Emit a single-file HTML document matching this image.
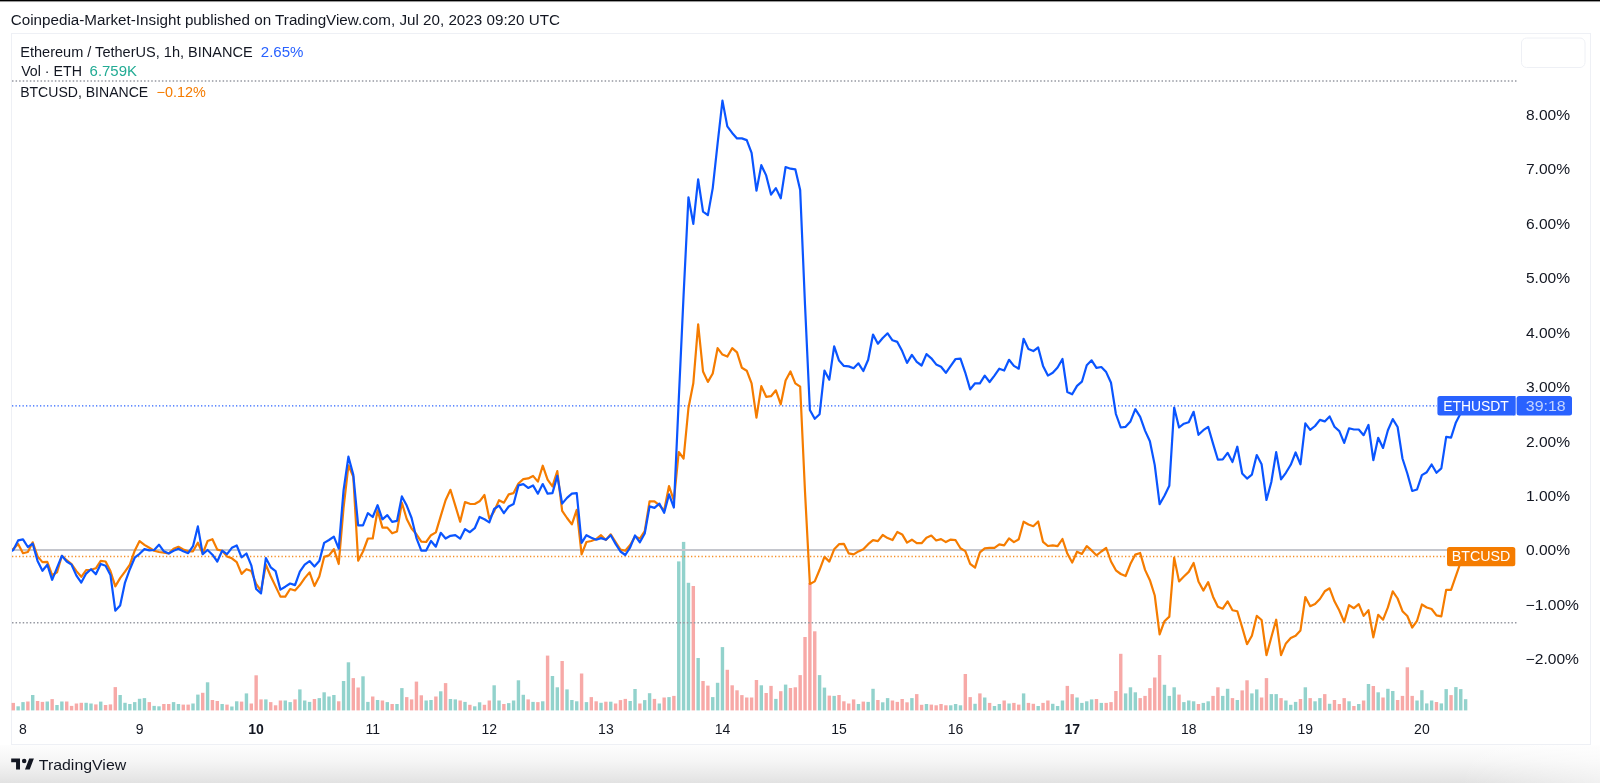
<!DOCTYPE html>
<html><head><meta charset="utf-8"><title>ETHUSDT vs BTCUSD</title>
<style>
html,body{margin:0;padding:0;width:1600px;height:783px;overflow:hidden;background:#fff;}
body{position:relative;font-family:"Liberation Sans", Arial, sans-serif;color:#131722;}
#topbar{position:absolute;left:0;top:0;width:1600px;height:3px;background:linear-gradient(#000 0,#000 1px,#999 1px,#999 2px,#fafafa 2px,#fafafa 3px);}
#foot{position:absolute;left:0;top:745px;width:1600px;height:38px;background:linear-gradient(#fdfdfd 0%,#f6f6f6 40%,#e9e9e9 80%,#e2e2e2 100%);}
#footr{position:absolute;right:0;top:745px;width:140px;height:38px;background:linear-gradient(90deg,rgba(255,255,255,0),rgba(255,255,255,0.5));}
#box{position:absolute;left:11px;top:33px;width:1578px;height:710px;border:1px solid #eef0f5;background:#fff;}
svg{position:absolute;left:0;top:0;will-change:transform;}
</style></head><body>
<div id="topbar"></div>
<div id="foot"></div>
<div id="footr"></div>
<div id="box"></div>
<svg width="1600" height="783" viewBox="0 0 1600 783" font-family='"Liberation Sans", Arial, sans-serif' font-size="14">
<defs><clipPath id="pane"><rect x="12" y="34" width="1505" height="676.4"/></clipPath></defs>
<rect x="1521.5" y="38" width="63.5" height="29.5" rx="5" fill="none" stroke="#eef0f5" stroke-width="1"/>
<g fill="rgba(38,166,154,0.5)"><rect x="16.44" y="706.30" width="3.4" height="4.10"/><rect x="21.30" y="702.10" width="3.4" height="8.30"/><rect x="31.01" y="695.00" width="3.4" height="15.40"/><rect x="45.59" y="701.50" width="3.4" height="8.90"/><rect x="55.30" y="705.00" width="3.4" height="5.40"/><rect x="60.16" y="701.50" width="3.4" height="8.90"/><rect x="84.44" y="702.80" width="3.4" height="7.60"/><rect x="89.30" y="703.50" width="3.4" height="6.90"/><rect x="99.02" y="701.60" width="3.4" height="8.80"/><rect x="118.45" y="695.00" width="3.4" height="15.40"/><rect x="123.30" y="702.80" width="3.4" height="7.60"/><rect x="128.16" y="704.00" width="3.4" height="6.40"/><rect x="133.02" y="702.10" width="3.4" height="8.30"/><rect x="137.87" y="698.80" width="3.4" height="11.60"/><rect x="142.73" y="698.10" width="3.4" height="12.30"/><rect x="152.45" y="705.90" width="3.4" height="4.50"/><rect x="157.30" y="706.30" width="3.4" height="4.10"/><rect x="171.88" y="702.10" width="3.4" height="8.30"/><rect x="176.73" y="704.00" width="3.4" height="6.40"/><rect x="191.31" y="703.50" width="3.4" height="6.90"/><rect x="196.16" y="694.60" width="3.4" height="15.80"/><rect x="205.88" y="682.30" width="3.4" height="28.10"/><rect x="220.45" y="704.00" width="3.4" height="6.40"/><rect x="230.16" y="706.50" width="3.4" height="3.90"/><rect x="235.02" y="701.30" width="3.4" height="9.10"/><rect x="244.74" y="693.40" width="3.4" height="17.00"/><rect x="264.16" y="699.40" width="3.4" height="11.00"/><rect x="283.59" y="700.50" width="3.4" height="9.90"/><rect x="288.45" y="702.10" width="3.4" height="8.30"/><rect x="298.17" y="689.40" width="3.4" height="21.00"/><rect x="303.02" y="700.50" width="3.4" height="9.90"/><rect x="307.88" y="701.90" width="3.4" height="8.50"/><rect x="317.59" y="698.10" width="3.4" height="12.30"/><rect x="322.45" y="692.30" width="3.4" height="18.10"/><rect x="327.31" y="696.50" width="3.4" height="13.90"/><rect x="332.17" y="695.00" width="3.4" height="15.40"/><rect x="341.88" y="681.00" width="3.4" height="29.40"/><rect x="346.74" y="662.30" width="3.4" height="48.10"/><rect x="361.31" y="676.30" width="3.4" height="34.10"/><rect x="366.17" y="701.90" width="3.4" height="8.50"/><rect x="375.88" y="700.00" width="3.4" height="10.40"/><rect x="385.60" y="702.10" width="3.4" height="8.30"/><rect x="395.31" y="704.00" width="3.4" height="6.40"/><rect x="400.17" y="688.10" width="3.4" height="22.30"/><rect x="424.46" y="700.50" width="3.4" height="9.90"/><rect x="429.31" y="700.00" width="3.4" height="10.40"/><rect x="439.03" y="691.30" width="3.4" height="19.10"/><rect x="448.74" y="699.00" width="3.4" height="11.40"/><rect x="453.60" y="699.40" width="3.4" height="11.00"/><rect x="463.31" y="701.90" width="3.4" height="8.50"/><rect x="473.03" y="706.30" width="3.4" height="4.10"/><rect x="477.89" y="702.30" width="3.4" height="8.10"/><rect x="492.46" y="685.30" width="3.4" height="25.10"/><rect x="497.32" y="700.50" width="3.4" height="9.90"/><rect x="507.03" y="703.10" width="3.4" height="7.30"/><rect x="511.89" y="700.50" width="3.4" height="9.90"/><rect x="516.74" y="680.30" width="3.4" height="30.10"/><rect x="521.60" y="694.80" width="3.4" height="15.60"/><rect x="531.32" y="701.90" width="3.4" height="8.50"/><rect x="541.03" y="701.30" width="3.4" height="9.10"/><rect x="550.75" y="676.00" width="3.4" height="34.40"/><rect x="555.60" y="687.30" width="3.4" height="23.10"/><rect x="565.32" y="689.40" width="3.4" height="21.00"/><rect x="570.17" y="700.00" width="3.4" height="10.40"/><rect x="575.03" y="701.30" width="3.4" height="9.10"/><rect x="584.75" y="702.10" width="3.4" height="8.30"/><rect x="599.32" y="702.80" width="3.4" height="7.60"/><rect x="609.03" y="701.70" width="3.4" height="8.70"/><rect x="628.46" y="701.00" width="3.4" height="9.40"/><rect x="633.32" y="689.00" width="3.4" height="21.40"/><rect x="643.03" y="700.10" width="3.4" height="10.30"/><rect x="647.89" y="693.20" width="3.4" height="17.20"/><rect x="657.61" y="703.50" width="3.4" height="6.90"/><rect x="667.32" y="697.10" width="3.4" height="13.30"/><rect x="677.04" y="561.40" width="3.4" height="149.00"/><rect x="681.89" y="541.90" width="3.4" height="168.50"/><rect x="686.75" y="582.80" width="3.4" height="127.60"/><rect x="696.46" y="658.00" width="3.4" height="52.40"/><rect x="711.04" y="697.10" width="3.4" height="13.30"/><rect x="715.89" y="682.80" width="3.4" height="27.60"/><rect x="720.75" y="647.10" width="3.4" height="63.30"/><rect x="759.61" y="685.30" width="3.4" height="25.10"/><rect x="774.18" y="698.90" width="3.4" height="11.50"/><rect x="783.90" y="684.60" width="3.4" height="25.80"/><rect x="817.90" y="675.10" width="3.4" height="35.30"/><rect x="822.75" y="687.60" width="3.4" height="22.80"/><rect x="832.47" y="695.90" width="3.4" height="14.50"/><rect x="856.76" y="704.00" width="3.4" height="6.40"/><rect x="866.47" y="701.90" width="3.4" height="8.50"/><rect x="871.33" y="688.80" width="3.4" height="21.60"/><rect x="881.04" y="702.30" width="3.4" height="8.10"/><rect x="885.90" y="698.10" width="3.4" height="12.30"/><rect x="910.19" y="698.10" width="3.4" height="12.30"/><rect x="924.76" y="704.00" width="3.4" height="6.40"/><rect x="949.04" y="705.30" width="3.4" height="5.10"/><rect x="953.90" y="704.00" width="3.4" height="6.40"/><rect x="958.76" y="705.30" width="3.4" height="5.10"/><rect x="973.33" y="703.80" width="3.4" height="6.60"/><rect x="983.04" y="697.50" width="3.4" height="12.90"/><rect x="992.76" y="706.00" width="3.4" height="4.40"/><rect x="997.62" y="704.00" width="3.4" height="6.40"/><rect x="1007.33" y="703.50" width="3.4" height="6.90"/><rect x="1021.90" y="693.40" width="3.4" height="17.00"/><rect x="1036.48" y="706.00" width="3.4" height="4.40"/><rect x="1051.05" y="703.80" width="3.4" height="6.60"/><rect x="1055.90" y="706.00" width="3.4" height="4.40"/><rect x="1060.76" y="700.50" width="3.4" height="9.90"/><rect x="1075.33" y="697.50" width="3.4" height="12.90"/><rect x="1080.19" y="702.90" width="3.4" height="7.50"/><rect x="1085.05" y="701.30" width="3.4" height="9.10"/><rect x="1089.91" y="699.40" width="3.4" height="11.00"/><rect x="1099.62" y="702.90" width="3.4" height="7.50"/><rect x="1123.91" y="693.40" width="3.4" height="17.00"/><rect x="1128.76" y="687.30" width="3.4" height="23.10"/><rect x="1133.62" y="692.30" width="3.4" height="18.10"/><rect x="1162.77" y="684.80" width="3.4" height="25.60"/><rect x="1167.62" y="695.90" width="3.4" height="14.50"/><rect x="1172.48" y="687.30" width="3.4" height="23.10"/><rect x="1182.19" y="702.10" width="3.4" height="8.30"/><rect x="1187.05" y="700.50" width="3.4" height="9.90"/><rect x="1191.91" y="701.30" width="3.4" height="9.10"/><rect x="1201.62" y="702.90" width="3.4" height="7.50"/><rect x="1206.48" y="701.30" width="3.4" height="9.10"/><rect x="1221.05" y="695.90" width="3.4" height="14.50"/><rect x="1225.91" y="688.80" width="3.4" height="21.60"/><rect x="1235.62" y="700.00" width="3.4" height="10.40"/><rect x="1250.20" y="693.40" width="3.4" height="17.00"/><rect x="1255.05" y="689.40" width="3.4" height="21.00"/><rect x="1269.63" y="694.10" width="3.4" height="16.30"/><rect x="1274.48" y="694.10" width="3.4" height="16.30"/><rect x="1284.20" y="700.50" width="3.4" height="9.90"/><rect x="1289.05" y="704.80" width="3.4" height="5.60"/><rect x="1293.91" y="701.90" width="3.4" height="8.50"/><rect x="1303.63" y="687.30" width="3.4" height="23.10"/><rect x="1313.34" y="701.30" width="3.4" height="9.10"/><rect x="1318.20" y="698.10" width="3.4" height="12.30"/><rect x="1327.91" y="703.80" width="3.4" height="6.60"/><rect x="1347.34" y="701.30" width="3.4" height="9.10"/><rect x="1357.06" y="704.00" width="3.4" height="6.40"/><rect x="1366.77" y="684.00" width="3.4" height="26.40"/><rect x="1376.49" y="692.30" width="3.4" height="18.10"/><rect x="1386.20" y="688.80" width="3.4" height="21.60"/><rect x="1391.06" y="691.00" width="3.4" height="19.40"/><rect x="1415.34" y="700.50" width="3.4" height="9.90"/><rect x="1420.20" y="690.20" width="3.4" height="20.20"/><rect x="1425.06" y="703.40" width="3.4" height="7.00"/><rect x="1429.92" y="700.50" width="3.4" height="9.90"/><rect x="1439.63" y="703.40" width="3.4" height="7.00"/><rect x="1444.49" y="689.10" width="3.4" height="21.30"/><rect x="1454.20" y="687.10" width="3.4" height="23.30"/><rect x="1459.06" y="689.10" width="3.4" height="21.30"/><rect x="1463.92" y="699.20" width="3.4" height="11.20"/></g>
<g fill="rgba(239,83,80,0.5)"><rect x="11.59" y="702.90" width="3.4" height="7.50"/><rect x="26.16" y="701.50" width="3.4" height="8.90"/><rect x="35.87" y="701.00" width="3.4" height="9.40"/><rect x="40.73" y="701.90" width="3.4" height="8.50"/><rect x="50.44" y="699.10" width="3.4" height="11.30"/><rect x="65.02" y="701.50" width="3.4" height="8.90"/><rect x="69.87" y="705.90" width="3.4" height="4.50"/><rect x="74.73" y="703.50" width="3.4" height="6.90"/><rect x="79.59" y="702.80" width="3.4" height="7.60"/><rect x="94.16" y="704.40" width="3.4" height="6.00"/><rect x="103.87" y="705.00" width="3.4" height="5.40"/><rect x="108.73" y="704.40" width="3.4" height="6.00"/><rect x="113.59" y="687.10" width="3.4" height="23.30"/><rect x="147.59" y="702.10" width="3.4" height="8.30"/><rect x="162.16" y="704.00" width="3.4" height="6.40"/><rect x="167.02" y="704.00" width="3.4" height="6.40"/><rect x="181.59" y="704.60" width="3.4" height="5.80"/><rect x="186.45" y="704.60" width="3.4" height="5.80"/><rect x="201.02" y="692.80" width="3.4" height="17.60"/><rect x="210.73" y="700.00" width="3.4" height="10.40"/><rect x="215.59" y="701.00" width="3.4" height="9.40"/><rect x="225.31" y="704.60" width="3.4" height="5.80"/><rect x="239.88" y="701.60" width="3.4" height="8.80"/><rect x="249.59" y="703.50" width="3.4" height="6.90"/><rect x="254.45" y="675.30" width="3.4" height="35.10"/><rect x="259.31" y="699.40" width="3.4" height="11.00"/><rect x="269.02" y="702.10" width="3.4" height="8.30"/><rect x="273.88" y="705.30" width="3.4" height="5.10"/><rect x="278.74" y="700.50" width="3.4" height="9.90"/><rect x="293.31" y="699.40" width="3.4" height="11.00"/><rect x="312.74" y="699.00" width="3.4" height="11.40"/><rect x="337.02" y="701.30" width="3.4" height="9.10"/><rect x="351.60" y="678.10" width="3.4" height="32.30"/><rect x="356.45" y="687.50" width="3.4" height="22.90"/><rect x="371.03" y="696.50" width="3.4" height="13.90"/><rect x="380.74" y="700.50" width="3.4" height="9.90"/><rect x="390.45" y="704.00" width="3.4" height="6.40"/><rect x="405.03" y="697.10" width="3.4" height="13.30"/><rect x="409.88" y="699.40" width="3.4" height="11.00"/><rect x="414.74" y="681.60" width="3.4" height="28.80"/><rect x="419.60" y="695.30" width="3.4" height="15.10"/><rect x="434.17" y="696.50" width="3.4" height="13.90"/><rect x="443.88" y="683.10" width="3.4" height="27.30"/><rect x="458.46" y="700.50" width="3.4" height="9.90"/><rect x="468.17" y="704.80" width="3.4" height="5.60"/><rect x="482.74" y="704.80" width="3.4" height="5.60"/><rect x="487.60" y="700.50" width="3.4" height="9.90"/><rect x="502.17" y="704.00" width="3.4" height="6.40"/><rect x="526.46" y="699.40" width="3.4" height="11.00"/><rect x="536.17" y="702.10" width="3.4" height="8.30"/><rect x="545.89" y="655.60" width="3.4" height="54.80"/><rect x="560.46" y="661.00" width="3.4" height="49.40"/><rect x="579.89" y="673.50" width="3.4" height="36.90"/><rect x="589.60" y="697.10" width="3.4" height="13.30"/><rect x="594.46" y="701.30" width="3.4" height="9.10"/><rect x="604.18" y="701.70" width="3.4" height="8.70"/><rect x="613.89" y="703.50" width="3.4" height="6.90"/><rect x="618.75" y="700.10" width="3.4" height="10.30"/><rect x="623.60" y="698.90" width="3.4" height="11.50"/><rect x="638.18" y="703.50" width="3.4" height="6.90"/><rect x="652.75" y="698.90" width="3.4" height="11.50"/><rect x="662.46" y="697.50" width="3.4" height="12.90"/><rect x="672.18" y="695.90" width="3.4" height="14.50"/><rect x="691.61" y="586.00" width="3.4" height="124.40"/><rect x="701.32" y="681.00" width="3.4" height="29.40"/><rect x="706.18" y="685.60" width="3.4" height="24.80"/><rect x="725.61" y="669.80" width="3.4" height="40.60"/><rect x="730.47" y="685.30" width="3.4" height="25.10"/><rect x="735.32" y="690.30" width="3.4" height="20.10"/><rect x="740.18" y="695.10" width="3.4" height="15.30"/><rect x="745.04" y="697.50" width="3.4" height="12.90"/><rect x="749.89" y="697.50" width="3.4" height="12.90"/><rect x="754.75" y="680.00" width="3.4" height="30.40"/><rect x="764.47" y="693.00" width="3.4" height="17.40"/><rect x="769.32" y="685.90" width="3.4" height="24.50"/><rect x="779.04" y="691.20" width="3.4" height="19.20"/><rect x="788.75" y="688.00" width="3.4" height="22.40"/><rect x="793.61" y="687.30" width="3.4" height="23.10"/><rect x="798.47" y="675.10" width="3.4" height="35.30"/><rect x="803.32" y="637.00" width="3.4" height="73.40"/><rect x="808.18" y="583.00" width="3.4" height="127.40"/><rect x="813.04" y="631.30" width="3.4" height="79.10"/><rect x="827.61" y="695.60" width="3.4" height="14.80"/><rect x="837.33" y="695.00" width="3.4" height="15.40"/><rect x="842.18" y="701.30" width="3.4" height="9.10"/><rect x="847.04" y="703.50" width="3.4" height="6.90"/><rect x="851.90" y="699.40" width="3.4" height="11.00"/><rect x="861.61" y="701.60" width="3.4" height="8.80"/><rect x="876.18" y="700.00" width="3.4" height="10.40"/><rect x="890.76" y="700.50" width="3.4" height="9.90"/><rect x="895.61" y="701.90" width="3.4" height="8.50"/><rect x="900.47" y="699.00" width="3.4" height="11.40"/><rect x="905.33" y="702.30" width="3.4" height="8.10"/><rect x="915.04" y="694.10" width="3.4" height="16.30"/><rect x="919.90" y="704.80" width="3.4" height="5.60"/><rect x="929.61" y="704.60" width="3.4" height="5.80"/><rect x="934.47" y="705.30" width="3.4" height="5.10"/><rect x="939.33" y="704.00" width="3.4" height="6.40"/><rect x="944.19" y="705.30" width="3.4" height="5.10"/><rect x="963.62" y="674.00" width="3.4" height="36.40"/><rect x="968.47" y="697.10" width="3.4" height="13.30"/><rect x="978.19" y="693.40" width="3.4" height="17.00"/><rect x="987.90" y="702.90" width="3.4" height="7.50"/><rect x="1002.47" y="700.50" width="3.4" height="9.90"/><rect x="1012.19" y="702.90" width="3.4" height="7.50"/><rect x="1017.05" y="704.60" width="3.4" height="5.80"/><rect x="1026.76" y="702.90" width="3.4" height="7.50"/><rect x="1031.62" y="703.80" width="3.4" height="6.60"/><rect x="1041.33" y="702.90" width="3.4" height="7.50"/><rect x="1046.19" y="700.50" width="3.4" height="9.90"/><rect x="1065.62" y="685.90" width="3.4" height="24.50"/><rect x="1070.48" y="694.10" width="3.4" height="16.30"/><rect x="1094.76" y="699.00" width="3.4" height="11.40"/><rect x="1104.48" y="702.90" width="3.4" height="7.50"/><rect x="1109.33" y="702.10" width="3.4" height="8.30"/><rect x="1114.19" y="691.00" width="3.4" height="19.40"/><rect x="1119.05" y="653.80" width="3.4" height="56.60"/><rect x="1138.48" y="698.10" width="3.4" height="12.30"/><rect x="1143.34" y="695.90" width="3.4" height="14.50"/><rect x="1148.19" y="688.10" width="3.4" height="22.30"/><rect x="1153.05" y="677.50" width="3.4" height="32.90"/><rect x="1157.91" y="655.00" width="3.4" height="55.40"/><rect x="1177.34" y="694.60" width="3.4" height="15.80"/><rect x="1196.77" y="704.00" width="3.4" height="6.40"/><rect x="1211.34" y="695.90" width="3.4" height="14.50"/><rect x="1216.20" y="687.30" width="3.4" height="23.10"/><rect x="1230.77" y="698.10" width="3.4" height="12.30"/><rect x="1240.48" y="690.40" width="3.4" height="20.00"/><rect x="1245.34" y="680.30" width="3.4" height="30.10"/><rect x="1259.91" y="697.50" width="3.4" height="12.90"/><rect x="1264.77" y="678.10" width="3.4" height="32.30"/><rect x="1279.34" y="698.10" width="3.4" height="12.30"/><rect x="1298.77" y="699.00" width="3.4" height="11.40"/><rect x="1308.48" y="698.10" width="3.4" height="12.30"/><rect x="1323.06" y="694.10" width="3.4" height="16.30"/><rect x="1332.77" y="700.00" width="3.4" height="10.40"/><rect x="1337.63" y="704.00" width="3.4" height="6.40"/><rect x="1342.49" y="698.10" width="3.4" height="12.30"/><rect x="1352.20" y="706.00" width="3.4" height="4.40"/><rect x="1361.91" y="700.50" width="3.4" height="9.90"/><rect x="1371.63" y="686.00" width="3.4" height="24.40"/><rect x="1381.34" y="697.50" width="3.4" height="12.90"/><rect x="1395.92" y="700.00" width="3.4" height="10.40"/><rect x="1400.77" y="695.90" width="3.4" height="14.50"/><rect x="1405.63" y="667.30" width="3.4" height="43.10"/><rect x="1410.49" y="695.90" width="3.4" height="14.50"/><rect x="1434.77" y="702.00" width="3.4" height="8.40"/><rect x="1449.35" y="695.10" width="3.4" height="15.30"/></g>
<line x1="12" y1="81" x2="1517" y2="81" stroke="#9598a1" stroke-width="1.5" stroke-dasharray="1.5 2.07"/>
<line x1="12" y1="622.8" x2="1517" y2="622.8" stroke="#9598a1" stroke-width="1.5" stroke-dasharray="1.5 2.07"/>
<line x1="12" y1="550" x2="1447" y2="550" stroke="#c4c6cd" stroke-width="2"/>
<line x1="12" y1="405.8" x2="1437" y2="405.8" stroke="#2962ff" stroke-width="1.3" stroke-dasharray="1.3 2.2"/>
<line x1="12" y1="556.5" x2="1447" y2="556.5" stroke="#f57c00" stroke-opacity="0.85" stroke-width="1.3" stroke-dasharray="1.3 2.2"/>
<g clip-path="url(#pane)" fill="none" stroke-width="2.2" stroke-linejoin="round" stroke-linecap="round">
<path d="M8.43,550.50 L13.29,549.00 L18.14,544.00 L23.00,553.20 L27.86,552.00 L32.71,542.30 L37.57,556.40 L42.43,562.10 L47.29,561.90 L52.14,575.20 L57.00,572.40 L61.86,555.80 L66.72,560.20 L71.57,564.10 L76.43,571.10 L81.29,576.80 L86.14,570.20 L91.00,569.80 L95.86,568.30 L100.72,560.90 L105.57,561.50 L110.43,571.10 L115.29,586.40 L120.15,578.10 L125.00,571.70 L129.86,564.70 L134.72,550.70 L139.57,541.10 L144.43,544.90 L149.29,547.80 L154.15,550.70 L159.00,552.00 L163.86,552.60 L168.72,553.50 L173.58,548.70 L178.43,546.80 L183.29,549.40 L188.15,551.30 L193.01,551.30 L197.86,542.70 L202.72,553.50 L207.58,541.10 L212.43,539.20 L217.29,549.60 L222.15,550.70 L227.01,556.40 L231.86,558.30 L236.72,562.10 L241.58,573.90 L246.44,569.20 L251.29,571.10 L256.15,583.90 L261.01,590.90 L265.86,564.70 L270.72,576.20 L275.58,586.40 L280.44,596.60 L285.29,596.60 L290.15,589.00 L295.01,590.50 L299.87,585.10 L304.72,578.10 L309.58,572.40 L314.44,586.00 L319.29,576.40 L324.15,556.90 L329.01,555.40 L333.87,549.20 L338.72,564.00 L343.58,507.50 L348.44,465.30 L353.30,476.80 L358.15,560.70 L363.01,551.50 L367.87,538.50 L372.73,538.50 L377.58,510.30 L382.44,527.60 L387.30,527.60 L392.15,533.30 L397.01,531.40 L401.87,502.70 L406.73,519.00 L411.58,528.50 L416.44,534.30 L421.30,541.60 L426.16,542.00 L431.01,535.20 L435.87,532.40 L440.73,516.10 L445.58,500.20 L450.44,489.80 L455.30,505.60 L460.16,521.80 L465.01,502.10 L469.87,503.80 L474.73,504.00 L479.59,501.30 L484.44,495.00 L489.30,518.60 L494.16,511.30 L499.02,500.20 L503.87,502.70 L508.73,494.40 L513.59,493.10 L518.44,483.50 L523.30,479.10 L528.16,478.40 L533.02,475.90 L537.87,481.60 L542.73,465.70 L547.59,479.70 L552.45,486.40 L557.30,471.10 L562.16,510.90 L567.02,518.00 L571.87,524.30 L576.73,509.80 L581.59,554.40 L586.45,542.00 L591.30,541.00 L596.16,539.10 L601.02,535.20 L605.88,540.00 L610.73,534.30 L615.59,542.00 L620.45,549.60 L625.30,550.80 L630.16,545.00 L635.02,536.60 L639.88,538.60 L644.73,531.20 L649.59,501.30 L654.45,501.30 L659.31,505.20 L664.16,510.50 L669.02,486.00 L673.88,500.60 L678.74,452.00 L683.59,458.50 L688.45,408.00 L693.31,383.30 L698.16,324.30 L703.02,371.50 L707.88,381.90 L712.74,373.50 L717.59,348.20 L722.45,354.60 L727.31,356.60 L732.17,348.20 L737.02,352.40 L741.88,367.80 L746.74,370.70 L751.59,383.30 L756.45,417.60 L761.31,386.10 L766.17,396.80 L771.02,396.20 L775.88,390.30 L780.74,404.40 L785.60,380.50 L790.45,371.50 L795.31,383.30 L800.17,386.70 L805.02,492.00 L809.88,584.00 L814.74,581.40 L819.60,569.80 L824.45,556.90 L829.31,561.60 L834.17,549.30 L839.03,544.20 L843.88,543.80 L848.74,553.40 L853.60,554.40 L858.46,551.40 L863.31,549.30 L868.17,544.20 L873.03,540.10 L877.88,541.10 L882.74,535.00 L887.60,538.10 L892.46,540.10 L897.31,532.00 L902.17,534.40 L907.03,542.60 L911.89,539.70 L916.74,543.20 L921.60,543.20 L926.46,537.70 L931.31,535.60 L936.17,540.50 L941.03,539.10 L945.89,542.10 L950.74,539.60 L955.60,540.20 L960.46,548.30 L965.32,551.10 L970.17,563.90 L975.03,567.70 L979.89,552.40 L984.75,548.30 L989.60,547.90 L994.46,547.90 L999.32,544.40 L1004.17,545.30 L1009.03,538.30 L1013.89,542.10 L1018.75,539.30 L1023.60,521.70 L1028.46,524.50 L1033.32,526.20 L1038.18,521.50 L1043.03,541.90 L1047.89,546.00 L1052.75,545.30 L1057.60,546.20 L1062.46,539.00 L1067.32,553.60 L1072.18,562.60 L1077.03,551.70 L1081.89,553.90 L1086.75,546.20 L1091.61,550.40 L1096.46,555.30 L1101.32,551.50 L1106.18,548.00 L1111.03,561.50 L1115.89,570.30 L1120.75,574.00 L1125.61,576.00 L1130.46,563.80 L1135.32,554.60 L1140.18,553.00 L1145.04,569.90 L1149.89,580.20 L1154.75,595.50 L1159.61,634.30 L1164.47,621.20 L1169.32,616.60 L1174.18,557.60 L1179.04,581.40 L1183.89,576.50 L1188.75,571.90 L1193.61,563.00 L1198.47,581.40 L1203.32,590.60 L1208.18,582.10 L1213.04,596.70 L1217.90,606.70 L1222.75,608.70 L1227.61,601.30 L1232.47,610.20 L1237.32,611.30 L1242.18,627.40 L1247.04,644.20 L1251.90,635.80 L1256.75,615.90 L1261.61,620.00 L1266.47,655.20 L1271.33,637.30 L1276.18,619.70 L1281.04,655.20 L1285.90,643.40 L1290.75,638.10 L1295.61,635.80 L1300.47,630.40 L1305.33,597.00 L1310.18,606.20 L1315.04,604.10 L1319.90,599.00 L1324.76,591.30 L1329.61,588.30 L1334.47,601.30 L1339.33,610.50 L1344.19,622.00 L1349.04,605.10 L1353.90,608.20 L1358.76,604.10 L1363.61,615.90 L1368.47,610.20 L1373.33,637.30 L1378.19,614.80 L1383.04,619.70 L1387.90,607.40 L1392.76,591.30 L1397.62,598.50 L1402.47,611.20 L1407.33,616.00 L1412.19,627.50 L1417.04,620.80 L1421.90,604.50 L1426.76,607.50 L1431.62,609.00 L1436.47,615.40 L1441.33,616.40 L1446.19,589.80 L1451.05,589.80 L1455.90,575.80 L1460.76,562.00 L1465.62,556.40" stroke="#f57c00"/>
<path d="M8.43,552.88 L13.29,550.00 L18.14,540.40 L23.00,539.40 L27.86,547.00 L32.71,543.60 L37.57,560.90 L42.43,570.80 L47.29,564.70 L52.14,579.80 L57.00,567.80 L61.86,555.80 L66.72,561.50 L71.57,564.70 L76.43,575.60 L81.29,582.60 L86.14,573.60 L91.00,569.20 L95.86,574.30 L100.72,564.00 L105.57,565.70 L110.43,574.90 L115.29,610.70 L120.15,605.60 L125.00,582.60 L129.86,569.20 L134.72,557.70 L139.57,553.80 L144.43,549.10 L149.29,550.40 L154.15,550.00 L159.00,544.70 L163.86,551.30 L168.72,553.50 L173.58,550.70 L178.43,548.70 L183.29,551.30 L188.15,553.20 L193.01,546.20 L197.86,526.40 L202.72,554.20 L207.58,550.00 L212.43,554.70 L217.29,561.50 L222.15,550.70 L227.01,554.20 L231.86,547.80 L236.72,545.50 L241.58,557.30 L246.44,553.50 L251.29,565.30 L256.15,589.00 L261.01,593.40 L265.86,558.10 L270.72,567.30 L275.58,571.10 L280.44,589.60 L285.29,586.70 L290.15,583.50 L295.01,585.10 L299.87,571.70 L304.72,564.70 L309.58,561.10 L314.44,566.50 L319.29,561.10 L324.15,542.90 L329.01,540.00 L333.87,536.60 L338.72,548.70 L343.58,490.20 L348.44,456.70 L353.30,474.90 L358.15,525.30 L363.01,525.30 L367.87,513.20 L372.73,517.00 L377.58,505.20 L382.44,519.30 L387.30,515.10 L392.15,521.80 L397.01,520.90 L401.87,496.40 L406.73,505.60 L411.58,518.00 L416.44,538.10 L421.30,550.60 L426.16,550.60 L431.01,541.00 L435.87,546.70 L440.73,532.80 L445.58,538.50 L450.44,535.80 L455.30,535.20 L460.16,538.70 L465.01,529.10 L469.87,532.20 L474.73,528.20 L479.59,517.00 L484.44,519.30 L489.30,522.40 L494.16,509.00 L499.02,505.60 L503.87,513.20 L508.73,506.50 L513.59,504.00 L518.44,485.40 L523.30,484.10 L528.16,487.90 L533.02,485.40 L537.87,493.70 L542.73,484.10 L547.59,493.70 L552.45,493.10 L557.30,475.90 L562.16,503.60 L567.02,497.90 L571.87,493.70 L576.73,493.10 L581.59,542.90 L586.45,535.20 L591.30,537.70 L596.16,539.70 L601.02,538.10 L605.88,539.70 L610.73,535.20 L615.59,543.90 L620.45,551.50 L625.30,555.00 L630.16,547.30 L635.02,535.50 L639.88,542.30 L644.73,533.50 L649.59,506.40 L654.45,507.90 L659.31,503.60 L664.16,512.80 L669.02,494.40 L673.88,507.50 L678.74,400.00 L683.59,295.00 L688.45,197.30 L693.31,223.80 L698.16,179.30 L703.02,211.60 L707.88,215.10 L712.74,188.10 L717.59,143.60 L722.45,100.60 L727.31,126.40 L732.17,132.90 L737.02,138.40 L741.88,138.40 L746.74,140.10 L751.59,152.90 L756.45,190.70 L761.31,165.20 L766.17,175.40 L771.02,194.60 L775.88,188.10 L780.74,198.30 L785.60,167.00 L790.45,168.70 L795.31,169.30 L800.17,190.10 L805.02,305.00 L809.88,410.00 L814.74,418.80 L819.60,414.20 L824.45,370.50 L829.31,379.70 L834.17,346.30 L839.03,360.60 L843.88,365.90 L848.74,366.40 L853.60,368.20 L858.46,363.30 L863.31,371.00 L868.17,359.80 L873.03,334.50 L877.88,343.70 L882.74,338.00 L887.60,333.30 L892.46,340.30 L897.31,341.90 L902.17,351.10 L907.03,362.90 L911.89,354.90 L916.74,361.80 L921.60,365.50 L926.46,354.10 L931.31,358.30 L936.17,364.40 L941.03,366.70 L945.89,372.80 L950.74,365.90 L955.60,359.00 L960.46,358.70 L965.32,372.80 L970.17,389.40 L975.03,383.30 L979.89,383.30 L984.75,375.60 L989.60,382.00 L994.46,375.60 L999.32,368.70 L1004.17,370.50 L1009.03,359.80 L1013.89,365.90 L1018.75,368.70 L1023.60,338.80 L1028.46,349.10 L1033.32,351.10 L1038.18,347.50 L1043.03,365.90 L1047.89,375.60 L1052.75,372.80 L1057.60,367.50 L1062.46,359.00 L1067.32,392.00 L1072.18,394.30 L1077.03,385.90 L1081.89,381.70 L1086.75,365.20 L1091.61,360.30 L1096.46,367.90 L1101.32,367.00 L1106.18,372.10 L1111.03,382.80 L1115.89,414.00 L1120.75,427.50 L1125.61,426.80 L1130.46,421.40 L1135.32,409.20 L1140.18,416.80 L1145.04,430.60 L1149.89,441.30 L1154.75,465.10 L1159.61,504.20 L1164.47,495.70 L1169.32,485.80 L1174.18,407.60 L1179.04,427.50 L1183.89,423.70 L1188.75,422.20 L1193.61,411.80 L1198.47,434.80 L1203.32,430.20 L1208.18,426.80 L1213.04,443.60 L1217.90,459.70 L1222.75,459.30 L1227.61,452.80 L1232.47,462.00 L1237.32,446.70 L1242.18,473.50 L1247.04,478.60 L1251.90,474.60 L1256.75,455.10 L1261.61,464.30 L1266.47,500.00 L1271.33,482.00 L1276.18,452.10 L1281.04,479.30 L1285.90,472.80 L1290.75,464.80 L1295.61,452.50 L1300.47,464.30 L1305.33,423.40 L1310.18,429.80 L1315.04,426.00 L1319.90,419.90 L1324.76,421.40 L1329.61,416.40 L1334.47,426.80 L1339.33,431.10 L1344.19,442.90 L1349.04,428.30 L1353.90,429.50 L1358.76,429.50 L1363.61,435.20 L1368.47,424.90 L1373.33,460.20 L1378.19,437.80 L1383.04,447.90 L1387.90,430.20 L1392.76,419.10 L1397.62,427.00 L1402.47,458.50 L1407.33,473.50 L1412.19,491.00 L1417.04,489.50 L1421.90,475.10 L1426.76,472.20 L1431.62,464.50 L1436.47,472.80 L1441.33,468.40 L1446.19,436.80 L1451.05,437.70 L1455.90,422.40 L1460.76,413.00 L1465.62,406.00" stroke="#0a55ff"/>
</g>
<g fill="#131722">
<text id="ethn" x="20.23" y="56.8" fill="#131722"  textLength="232.48" lengthAdjust="spacingAndGlyphs">Ethereum / TetherUS, 1h, BINANCE</text><text id="ethp" x="260.81" y="56.8" fill="#2962ff"  textLength="42.67" lengthAdjust="spacingAndGlyphs">2.65%</text><text id="voln" x="21.19" y="76.4" fill="#131722"  textLength="60.75" lengthAdjust="spacingAndGlyphs">Vol · ETH</text><text id="volv" x="89.59" y="76.4" fill="#22ab94"  textLength="47.40" lengthAdjust="spacingAndGlyphs">6.759K</text><text id="btcn" x="20.17" y="97.1" fill="#131722"  textLength="128.03" lengthAdjust="spacingAndGlyphs">BTCUSD, BINANCE</text><text id="btcp" x="156.53" y="97.1" fill="#f57c00"  textLength="49.24" lengthAdjust="spacingAndGlyphs">−0.12%</text>
<text id="p8" x="1525.94" y="120.0" textLength="44.18" lengthAdjust="spacingAndGlyphs">8.00%</text><text id="p7" x="1525.94" y="174.4" textLength="44.18" lengthAdjust="spacingAndGlyphs">7.00%</text><text id="p6" x="1525.94" y="228.9" textLength="44.18" lengthAdjust="spacingAndGlyphs">6.00%</text><text id="p5" x="1525.94" y="283.3" textLength="44.18" lengthAdjust="spacingAndGlyphs">5.00%</text><text id="p4" x="1525.94" y="337.7" textLength="44.18" lengthAdjust="spacingAndGlyphs">4.00%</text><text id="p3" x="1525.94" y="392.1" textLength="44.18" lengthAdjust="spacingAndGlyphs">3.00%</text><text id="p2" x="1525.94" y="446.6" textLength="44.18" lengthAdjust="spacingAndGlyphs">2.00%</text><text id="p1" x="1525.94" y="501.0" textLength="44.18" lengthAdjust="spacingAndGlyphs">1.00%</text><text id="p0" x="1525.94" y="555.4" textLength="44.18" lengthAdjust="spacingAndGlyphs">0.00%</text><text id="p-1" x="1525.61" y="609.9" textLength="53.30" lengthAdjust="spacingAndGlyphs">−1.00%</text><text id="p-2" x="1525.61" y="664.3" textLength="53.30" lengthAdjust="spacingAndGlyphs">−2.00%</text>
<text x="23.0" y="733.8" text-anchor="middle">8</text><text x="139.6" y="733.8" text-anchor="middle">9</text><text x="256.1" y="733.8" text-anchor="middle" font-weight="bold">10</text><text x="372.7" y="733.8" text-anchor="middle">11</text><text x="489.3" y="733.8" text-anchor="middle">12</text><text x="605.9" y="733.8" text-anchor="middle">13</text><text x="722.5" y="733.8" text-anchor="middle">14</text><text x="839.0" y="733.8" text-anchor="middle">15</text><text x="955.6" y="733.8" text-anchor="middle">16</text><text x="1072.2" y="733.8" text-anchor="middle" font-weight="bold">17</text><text x="1188.8" y="733.8" text-anchor="middle">18</text><text x="1305.3" y="733.8" text-anchor="middle">19</text><text x="1421.9" y="733.8" text-anchor="middle">20</text>
</g>
<rect x="1437.4" y="396" width="78" height="19.4" rx="2.5" fill="#2962ff"/>
<rect x="1516.6" y="396" width="55.4" height="19.4" rx="2.5" fill="#2962ff"/>
<rect x="1513" y="396" width="2.5" height="19.4" fill="#2962ff"/>
<rect x="1447" y="546.9" width="68.3" height="19.4" rx="2.5" fill="#f57c00"/>
<g fill="#131722"><path d="M11.2,758.5H20V769.5H16.05V762.2H11.2Z M29.2,758.5H33.9L29.7,769.5H25Z"/><circle cx="24.2" cy="760.9" r="2.25"/></g>
<text id="hdr" x="10.76" y="24.7" fill="#131722"  textLength="549.28" lengthAdjust="spacingAndGlyphs">Coinpedia-Market-Insight published on TradingView.com, Jul 20, 2023 09:20 UTC</text><text id="lbe" x="1443.15" y="410.9" fill="#ffffff"  textLength="65.73" lengthAdjust="spacingAndGlyphs">ETHUSDT</text><text id="lbt" x="1525.83" y="410.9" fill="#ffffff" fill-opacity="0.72" textLength="39.87" lengthAdjust="spacingAndGlyphs">39:18</text><text id="lbb" x="1451.83" y="561.4" fill="#ffffff"  textLength="58.55" lengthAdjust="spacingAndGlyphs">BTCUSD</text><text id="tv" x="38.79" y="770.3" fill="#131722" font-size="15" textLength="87.40" lengthAdjust="spacingAndGlyphs">TradingView</text>
</svg>
</body></html>
